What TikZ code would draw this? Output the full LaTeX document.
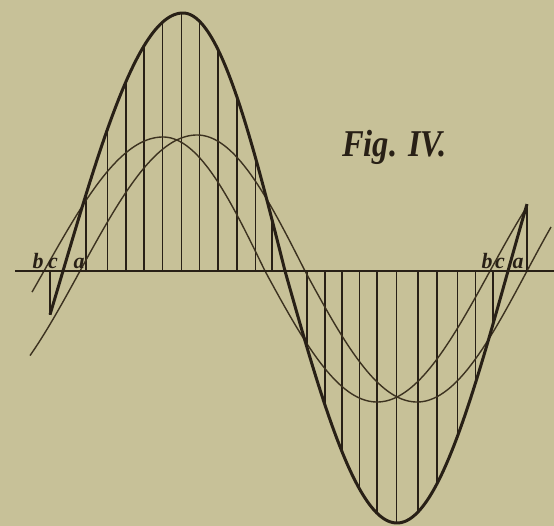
\documentclass[tikz,border=0pt]{standalone}
\usepackage{fontspec}
\newfontfamily\figfont{Liberation Serif}
\definecolor{paper}{RGB}{199,193,152}
\definecolor{ink}{RGB}{40,32,22}
\definecolor{thinink}{RGB}{60,50,32}
\begin{document}
\begin{tikzpicture}[x=1bp,y=-1bp,
  declare function={
    sumy(\t)=ifthenelse(\t<=183, 271-258*sin((\t-63)/120*90),
             ifthenelse(\t<=285, 271-258*sin(90+(\t-183)/102*90),
             ifthenelse(\t<=397, 271-252*sin(180+(\t-285)/112*90),
                                 271-252*sin(270+(\t-397)/111*90))));
    ay(\t)=ifthenelse(\t<=163, 271-134*sin((\t-44)/119*90),
             ifthenelse(\t<=265, 271-134*sin(90+(\t-163)/102*90),
             ifthenelse(\t<=377, 271-131*sin(180+(\t-265)/112*90),
                                 271-131*sin(270+(\t-377)/113*90))));
    by(\t)=ifthenelse(\t<=197, 271-136*sin((\t-80)/117*90),
             ifthenelse(\t<=305, 271-136*sin(90+(\t-197)/108*90),
             ifthenelse(\t<=417, 271-131*sin(180+(\t-305)/112*90),
                                 271-131*sin(270+(\t-417)/110*90))));
  },
  axisline/.style={ink, line width=1.7bp},
  hatch/.style={ink, line width=1.8bp},
  thincurve/.style={thinink, line width=1.4bp, line join=round},
  sumcurve/.style={ink, line width=3bp, line join=round},
  lbl/.style={font=\figfont\fontsize{22}{22}\selectfont\bfseries\itshape, inner sep=0pt, anchor=base, text=ink},
  figlbl/.style={font=\figfont\fontsize{38}{38}\selectfont\bfseries\itshape, inner sep=0pt, anchor=base west, text=ink},
]
% paper
\fill[paper] (0,0) rectangle (554,526);
\useasboundingbox (0,0) rectangle (554,526);

% hatching between axis and sum curve
\foreach \h in {86,107.5,126,144,162.5,181.5,199.5,218,237,255.5,272,
                307,325,342,359.5,377,396.5,418,437,457.5,475.5,493,50,527}
  \draw[hatch] (\h,271) -- (\h,{sumy(\h)});

% the two component waves
\draw[thincurve] plot[domain=32:527, samples=300] (\x,{ay(\x)});
\draw[thincurve] plot[domain=30:551, samples=300] (\x,{by(\x)});

% the resulting wave
\draw[sumcurve] plot[domain=50:527, samples=300] (\x,{sumy(\x)});

% axis
\draw[axisline] (15,271) -- (554,271);

% labels
\node[lbl] (lb) at (38,268) {b};
\node[lbl] (lc) at (53,268) {c};
\node[lbl] (la) at (79,268) {a};
\node[lbl] (rb) at (487,268) {b};
\node[lbl] (rc) at (500,268) {c};
\node[lbl] (ra) at (518,268) {a};

\node[figlbl] (fig) at (342,157) {\scalebox{0.86}[1]{Fig. IV.}};
\end{tikzpicture}
\end{document}
